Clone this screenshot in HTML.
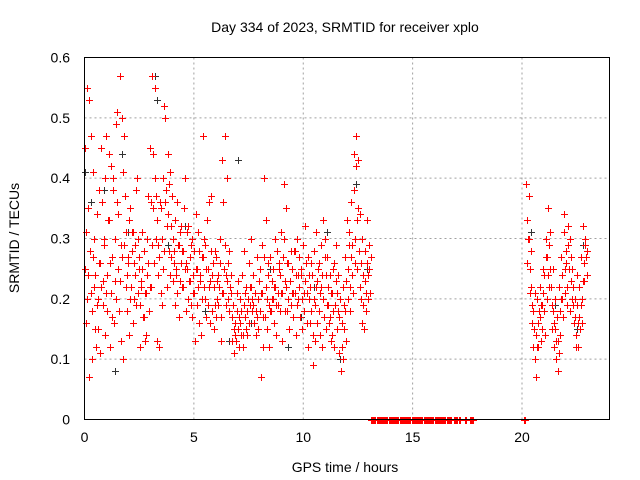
<!DOCTYPE html>
<html><head><meta charset="utf-8"><style>
body{margin:0;background:#fff;}
svg{display:block;font-family:"Liberation Sans",sans-serif;}
</style></head><body>
<svg id="chart" width="640" height="480" viewBox="0 0 640 480" xmlns="http://www.w3.org/2000/svg">
<text x="345" y="32" font-size="14" text-anchor="middle" fill="#000">Day 334 of 2023, SRMTID for receiver xplo</text>
<text x="345" y="472" font-size="14" text-anchor="middle">GPS time / hours</text>
<text transform="translate(19,238) rotate(-90)" font-size="14" text-anchor="middle">SRMTID / TECUs</text>
<g id="grid"></g>
<g id="ticks"></g>
<g id="marks"></g>
<rect x="84.5" y="57.5" width="525" height="362" fill="none" stroke="#000" stroke-width="1"/>
</svg>
<script>
const xTicks=[0,5,10,15,20];
const yTicks=[0,0.1,0.2,0.3,0.4,0.5,0.6];
const yTickLabels=["0","0.1","0.2","0.3","0.4","0.5","0.6"];
const hoursStart=0.0, hoursStep=0.1;
const redVals=[
[0.45,0.25,0.16,0.31],[0.55,0.20,0.35,0.24],[0.53,0.07,0.28,0.21],[0.47,0.18,0.10,0.27],[0.41,0.22,0.30,0.15],
[0.24,0.12,0.34,0.19],[0.20,0.15,0.38,0.26],[0.26,0.11,0.45,0.22],[0.36,0.19,0.23,0.30],[0.29,0.14,0.40,0.21],
[0.47,0.24,0.18,0.33],[0.44,0.33,0.12,0.26],[0.42,0.21,0.27,0.17],[0.40,0.38,0.16,0.23],[0.30,0.20,0.49,0.36],
[0.51,0.25,0.34,0.18],[0.57,0.23,0.13,0.29],[0.50,0.27,0.10,0.41],[0.47,0.29,0.37,0.22],[0.31,0.18,0.24,0.27],
[0.26,0.33,0.14,0.20],[0.35,0.22,0.28,0.31],[0.31,0.16,0.20,0.26],[0.29,0.24,0.38,0.19],[0.40,0.21,0.30,0.25],
[0.27,0.19,0.12,0.23],[0.22,0.25,0.31,0.17],[0.17,0.28,0.13,0.21],[0.21,0.14,0.24,0.30],[0.37,0.26,0.18,0.22],
[0.45,0.36,0.22,0.29],[0.57,0.44,0.35,0.26],[0.55,0.40,0.30,0.37],[0.33,0.13,0.24,0.29],[0.27,0.12,0.36,0.21],
[0.35,0.19,0.30,0.25],[0.40,0.52,0.28,0.36],[0.50,0.38,0.22,0.32],[0.44,0.34,0.28,0.39],[0.41,0.24,0.32,0.27],
[0.37,0.23,0.30,0.26],[0.28,0.19,0.33,0.24],[0.25,0.21,0.36,0.29],[0.29,0.17,0.31,0.23],[0.32,0.26,0.22,0.28],
[0.28,0.22,0.35,0.25],[0.40,0.18,0.26,0.31],[0.25,0.20,0.32,0.23],[0.23,0.27,0.19,0.29],[0.30,0.17,0.24,0.21],
[0.28,0.21,0.13,0.25],[0.34,0.19,0.25,0.22],[0.31,0.16,0.28,0.24],[0.23,0.14,0.20,0.27],[0.47,0.27,0.22,0.30],
[0.29,0.20,0.17,0.25],[0.33,0.25,0.19,0.22],[0.36,0.16,0.23,0.28],[0.37,0.24,0.18,0.26],[0.22,0.15,0.28,0.19],
[0.27,0.17,0.20,0.23],[0.24,0.19,0.22,0.26],[0.30,0.17,0.13,0.21],[0.43,0.36,0.21,0.25],[0.47,0.29,0.19,0.24],
[0.40,0.23,0.20,0.26],[0.28,0.18,0.22,0.24],[0.21,0.13,0.17,0.19],[0.19,0.11,0.15,0.14],[0.16,0.13,0.21,0.18],
[0.23,0.15,0.12,0.17],[0.20,0.16,0.18,0.14],[0.24,0.12,0.14,0.19],[0.28,0.17,0.21,0.15],[0.22,0.18,0.14,0.20],
[0.26,0.16,0.19,0.22],[0.30,0.22,0.18,0.20],[0.24,0.19,0.16,0.21],[0.21,0.14,0.18,0.17],[0.27,0.20,0.15,0.23],
[0.25,0.18,0.07,0.21],[0.29,0.21,0.12,0.17],[0.40,0.27,0.17,0.22],[0.33,0.20,0.15,0.26],[0.24,0.19,0.12,0.18],
[0.27,0.18,0.23,0.20],[0.25,0.20,0.16,0.22],[0.30,0.22,0.14,0.19],[0.28,0.19,0.21,0.25],[0.26,0.24,0.18,0.21],
[0.31,0.21,0.13,0.27],[0.39,0.30,0.23,0.18],[0.35,0.22,0.18,0.26],[0.26,0.20,0.15,0.23],[0.23,0.28,0.19,0.21],
[0.25,0.17,0.21,0.28],[0.28,0.21,0.14,0.24],[0.30,0.19,0.24,0.20],[0.27,0.22,0.17,0.25],[0.24,0.15,0.20,0.29],
[0.29,0.21,0.18,0.23],[0.32,0.26,0.16,0.21],[0.27,0.12,0.20,0.24],[0.22,0.16,0.18,0.26],[0.24,0.09,0.14,0.20],
[0.28,0.19,0.13,0.22],[0.31,0.23,0.16,0.25],[0.26,0.18,0.21,0.14],[0.29,0.22,0.12,0.24],[0.33,0.20,0.17,0.27],
[0.30,0.24,0.15,0.19],[0.27,0.19,0.22,0.16],[0.24,0.17,0.13,0.21],[0.21,0.14,0.18,0.25],[0.26,0.12,0.19,0.23],
[0.29,0.21,0.15,0.18],[0.24,0.11,0.17,0.20],[0.20,0.08,0.12,0.16],[0.22,0.10,0.15,0.19],[0.27,0.18,0.13,0.23],
[0.33,0.25,0.20,0.29],[0.31,0.22,0.18,0.27],[0.36,0.29,0.24,0.21],[0.44,0.38,0.30,0.26],[0.47,0.42,0.33,0.25],
[0.43,0.35,0.28,0.22],[0.34,0.26,0.20,0.16],[0.30,0.24,0.19,0.15],[0.28,0.23,0.18,0.21],[0.33,0.26,0.20,0.24],
[0.29,0.25,0.21,0.27]
];
const redExtraHours=[20.2,20.3,20.4,20.5,20.6,20.7,20.8,20.9,21.0,21.1,21.2,21.3,21.4,21.5,21.6,21.7,21.8,21.9,22.0,22.1,22.2,22.3,22.4,22.5,22.6,22.7,22.8,22.9];
const redExtraVals=[
[0.39,0.33,0.26,0.30],[0.37,0.30,0.25,0.21],[0.28,0.22,0.19,0.16],[0.18,0.12,0.15,0.21],[0.10,0.07,0.14,0.12],
[0.20,0.16,0.12,0.18],[0.22,0.17,0.13,0.19],[0.19,0.15,0.21,0.25],[0.24,0.18,0.14,0.27],[0.30,0.27,0.20,0.24],
[0.35,0.29,0.22,0.25],[0.31,0.22,0.15,0.19],[0.25,0.18,0.12,0.16],[0.20,0.15,0.10,0.13],[0.17,0.13,0.08,0.11],
[0.22,0.18,0.14,0.20],[0.27,0.24,0.20,0.17],[0.34,0.31,0.25,0.21],[0.28,0.26,0.22,0.19],[0.32,0.29,0.25,0.18],
[0.30,0.27,0.23,0.20],[0.25,0.22,0.19,0.16],[0.20,0.17,0.14,0.12],[0.24,0.19,0.12,0.16],[0.22,0.17,0.15,0.19],
[0.27,0.20,0.16,0.23],[0.32,0.26,0.23,0.29],[0.30,0.27,0.24,0.28]
];
const zeroHours=[13.1,13.2,13.3,13.4,13.5,13.6,13.7,13.8,13.9,14.0,14.1,14.2,14.3,14.4,14.5,14.6,14.7,14.8,14.9,15.0,15.1,15.2,15.3,15.4,15.5,15.6,15.7,15.8,15.9,16.0,16.1,16.2,16.3,16.4,16.5,16.6,16.7,16.9,17.0,17.1,17.4,17.6,17.7,20.1];
const grayHours=[0.0,0.3,0.9,1.4,1.7,2.0,3.2,3.3,3.8,4.6,5.5,6.1,6.6,7.0,7.6,8.5,9.3,9.9,10.5,11.1,11.7,12.3,12.4,12.9,20.4,21.1,21.5,22.0,22.5,22.8];
const grayVals=[0.41,0.36,0.38,0.08,0.44,0.31,0.57,0.53,0.29,0.32,0.18,0.24,0.13,0.43,0.16,0.25,0.12,0.17,0.22,0.31,0.10,0.44,0.39,0.25,0.31,0.30,0.19,0.28,0.15,0.29];

const X0=84.5,X1=609.5,Y0=419.5,Y1=57.5,XMAX=24,YMAX=0.6;
const xs=h=>X0+h/XMAX*(X1-X0);
const ys=v=>Y0-v/YMAX*(Y0-Y1);
const NS="http://www.w3.org/2000/svg";
const grid=document.getElementById('grid'),ticks=document.getElementById('ticks'),marks=document.getElementById('marks');
function mk(tag,attrs,parent){const e=document.createElementNS(NS,tag);for(const k in attrs)e.setAttribute(k,attrs[k]);parent.appendChild(e);return e;}
xTicks.forEach(t=>{
  const x=xs(t);
  if(t>0){const g=mk('line',{x1:x,y1:Y1,x2:x,y2:Y0,stroke:'#a0a0a0','stroke-dasharray':'2,3'},grid);
  
  }
  const tl=mk('text',{x:x,y:442,'font-size':14,'text-anchor':'middle'},ticks);
  tl.textContent=String(t);
  
  
});
yTicks.forEach((t,i)=>{
  const y=ys(t);
  if(t>0&&t<YMAX){const g=mk('line',{x1:X0,y1:y,x2:X1,y2:y,stroke:'#a0a0a0','stroke-dasharray':'2,3'},grid);
  
  }
  const tl=mk('text',{x:70,y:y+5,'font-size':14,'text-anchor':'end'},ticks);
  tl.textContent=yTickLabels[i];
  
  
});
function plus(h,v,color,name){
  const x=Math.round(xs(h))+0.5,y=Math.round(ys(v))+0.5;
  const p=mk('path',{d:`M${x-3.5} ${y}H${x+3.5}M${x} ${y-3.5}V${y+3.5}`,stroke:color,'stroke-width':1,fill:'none'},marks);
  
  
}
grayHours.forEach((h,i)=>plus(h,grayVals[i],'#333','gray-point'));
redVals.forEach((arr,i)=>{const h=hoursStart+i*hoursStep;arr.forEach((v,j)=>plus(h+j*0.025,v,'#f00','red-point'));});
redExtraHours.forEach((h,i)=>redExtraVals[i].forEach((v,j)=>plus(h+j*0.025,v,'#f00','red-point')));
zeroHours.forEach(h=>{plus(h,0,'#f00','zero-point');plus(h+0.05,0,'#f00','zero-point');});
</script>
</body></html>
